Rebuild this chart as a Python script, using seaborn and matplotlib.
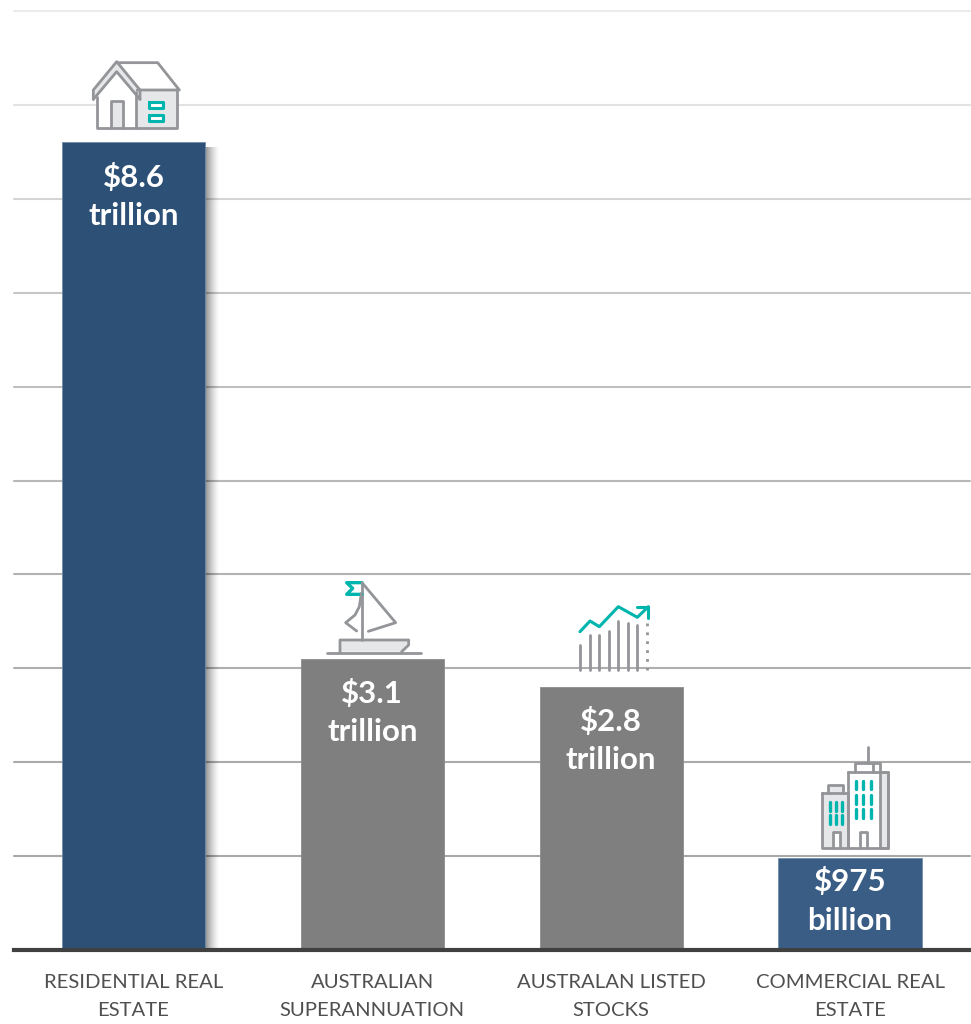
import numpy as np
import pandas as pd
import matplotlib
matplotlib.use("Agg")
import matplotlib.pyplot as plt
import seaborn as sns
from matplotlib.patches import Polygon
from matplotlib.lines import Line2D

categories = ["RESIDENTIAL REAL\nESTATE", "AUSTRALIAN\nSUPERANNUATION",
              "AUSTRALAN LISTED\nSTOCKS", "COMMERCIAL REAL\nESTATE"]
values_trillion = [8.6, 3.1, 2.8, 0.975]
value_labels = ["$8.6\ntrillion", "$3.1\ntrillion", "$2.8\ntrillion", "$975\nbillion"]
bar_colors = ["#2d5077", "#7f7f7f", "#7f7f7f", "#3a5d85"]
bar_edges = ["#6d8cab", "#8c8c8c", "#8c8c8c", "#6d8cab"]
label_drop_px = [54, 53.5, 53.5, 42.5]
grid_colors = ["#a8a8a8", "#aaaaaa", "#aeaeae", "#b2b2b2", "#b8b8b8",
               "#bebebe", "#c6c6c6", "#d4d4d4", "#e2e2e2", "#ebebeb"]

W, H = 971, 1024
GREY, TEAL, PALE = "#939598", "#00b5ad", "#e6e7e8"

sns.set_theme(style="white")
plt.rcParams["font.family"] = ["Lato", "DejaVu Sans"]

fig = plt.figure(figsize=(W / 100, H / 100), dpi=100, facecolor="white")
ax = fig.add_axes([14.1 / W, 1 - 950 / H, (969.5 - 14.1) / W, (950 - 11) / H])

df = pd.DataFrame({"category": categories, "value": values_trillion})
sns.barplot(data=df, x="category", y="value", hue="category", palette=bar_colors,
            width=0.6, saturation=1, legend=False, ax=ax, zorder=3)
ax.set_xlim(-0.5, 3.5)
ax.set_ylim(0, 10)
ax.set_xlabel("")
ax.set_ylabel("")
ax.set_yticks([])
sns.despine(ax=ax, left=True, top=True, right=True)
ax.spines["bottom"].set_color("#404040")
ax.spines["bottom"].set_linewidth(3.0)
ax.spines["bottom"].set_zorder(6)
ax.tick_params(axis="x", length=0, pad=17)
ax.set_xticks(range(4))
ax.set_xticklabels(categories, fontsize=14.6, color="#505050")
for tick_label in ax.get_xticklabels():
    tick_label.set_linespacing(1.8)

# Horizontal rules fade out towards the top of the chart
for level, colour in zip(range(1, 11), grid_colors):
    ax.axhline(level, color=colour, lw=1.5, zorder=1, clip_on=False)

bars = [p for p in ax.patches]
for bar, edge in zip(bars, bar_edges):
    bar.set_edgecolor(edge)
    bar.set_linewidth(0.6)

# Soft drop shadow to the right of the first bar
first = bars[0]
x_right = first.get_x() + first.get_width()
shadow_w = 15 / (955.4 / 4)
ramp = np.linspace(1, 0, 64).reshape(1, -1) ** 1.4 * 0.45
rgba = np.zeros((1, 64, 4))
rgba[..., 3] = ramp
ax.imshow(rgba, extent=[x_right, x_right + shadow_w, 0, first.get_height() - 0.05],
          aspect="auto", zorder=2, interpolation="bilinear")
ax.set_xlim(-0.5, 3.5)
ax.set_ylim(0, 10)

# Value captions sit inside the bars
for bar, text, drop in zip(bars, value_labels, label_drop_px):
    ax.annotate(text, xy=(bar.get_x() + bar.get_width() / 2, bar.get_height()),
                xytext=(0, -drop * 0.72), textcoords="offset points",
                ha="center", va="center", color="white", fontsize=22.5,
                fontweight="bold", linespacing=1.46, zorder=5)

# Overlay in pixel units for the line-art icons above the bars
ov = fig.add_axes([0, 0, 1, 1], facecolor="none")
ov.set_xlim(0, W)
ov.set_ylim(H, 0)
ov.axis("off")


def stroke(org, pts, color=GREY, lw=2.0, ls="-", z=3):
    xs = [org[0] + p[0] / 3 for p in pts]
    ys = [org[1] + p[1] / 3 for p in pts]
    ov.add_line(Line2D(xs, ys, color=color, lw=lw, ls=ls, zorder=z,
                       solid_capstyle="round", solid_joinstyle="round"))


def fill(org, pts, color=PALE, z=2):
    ov.add_patch(Polygon([(org[0] + p[0] / 3, org[1] + p[1] / 3) for p in pts],
                         closed=True, facecolor=color, edgecolor="none", zorder=z))


def box(org, x0, y0, x1, y1, face=None, color=GREY, lw=2.0):
    pts = [(x0, y0), (x1, y0), (x1, y1), (x0, y1)]
    if face:
        fill(org, pts, face)
    stroke(org, pts + [(x0, y0)], color=color, lw=lw)


# House
o = (60, 40)
fill(o, [(110, 165), (110, 263), (350, 263), (350, 150), (240, 150), (170, 80)], "white", 1.5)
fill(o, [(230, 150), (350, 150), (350, 263), (230, 263)])
fill(o, [(97, 180), (97, 150), (170, 65), (240, 150), (240, 180), (170, 95)])
stroke(o, [(100, 178), (100, 150), (170, 65), (240, 150), (240, 178)])
stroke(o, [(100, 178), (170, 95), (240, 178)])
stroke(o, [(170, 68), (293, 68), (358, 150), (232, 150)])
stroke(o, [(112, 170), (112, 263), (350, 263), (350, 150)])
stroke(o, [(228, 155), (228, 263)])
fill(o, [(152, 263), (152, 183), (188, 183), (188, 263)])
stroke(o, [(152, 263), (152, 183), (188, 183), (188, 263)])
box(o, 266, 186, 310, 205, "white", TEAL, 2.2)
box(o, 266, 225, 310, 244, "white", TEAL, 2.2)

# Sailing boat
o = (300, 570)
stroke(o, [(186, 38), (186, 210)])
stroke(o, [(186, 38), (140, 38), (158, 55), (140, 73), (186, 73)], TEAL, 2.4)
stroke(o, [(186, 38), (287, 158), (205, 184)])
stroke(o, [(184, 70), (178, 110), (165, 135), (137, 158), (170, 183)])
fill(o, [(120, 245), (120, 210), (326, 210), (326, 225), (305, 245)])
stroke(o, [(120, 245), (120, 210), (326, 210), (326, 225), (305, 245)])
stroke(o, [(80, 248), (362, 248)])

# Rising share chart
stick_x = [840, 869, 898, 926, 955, 984, 1012]
stick_top = [225, 195, 195, 182, 152, 158, 166]
for sx, st in zip(stick_x, stick_top):
    stroke(o, [(sx, 300), (sx, st)])
stroke(o, [(1040, 158), (1040, 300)], ls=(0, (1, 2.2)))
stroke(o, [(840, 185), (870, 153), (898, 170), (955, 110), (1012, 142), (1045, 110)], TEAL, 2.2)
stroke(o, [(1010, 110), (1045, 110), (1045, 145)], TEAL, 2.2)

# Office towers
o = (770, 740)
stroke(o, [(293, 22), (293, 68)])
stroke(o, [(256, 95), (256, 68), (330, 68), (330, 95)])
stroke(o, [(308, 68), (308, 95)])
box(o, 330, 97, 355, 325, PALE)
box(o, 235, 97, 355, 325, None)
box(o, 157, 160, 235, 325, PALE)
fill(o, [(175, 160), (175, 135), (220, 135), (220, 160)])
stroke(o, [(175, 160), (175, 135), (220, 135), (220, 160)])
for dx0, dx1 in [(190, 210), (270, 292)]:
    fill(o, [(dx0, 325), (dx0, 275), (dx1, 275), (dx1, 325)], "white")
    stroke(o, [(dx0, 325), (dx0, 275), (dx1, 275), (dx1, 325)])
for wx in (258, 280, 303):
    for y0, y1 in [(122, 148), (165, 191), (208, 234)]:
        stroke(o, [(wx, y0), (wx, y1)], TEAL, 2.4)
for wx in (180, 197, 215):
    for y0, y1 in [(187, 213), (225, 252)]:
        stroke(o, [(wx, y0), (wx, y1)], TEAL, 2.4)

fig.savefig("out.png", dpi=100, facecolor="white")
